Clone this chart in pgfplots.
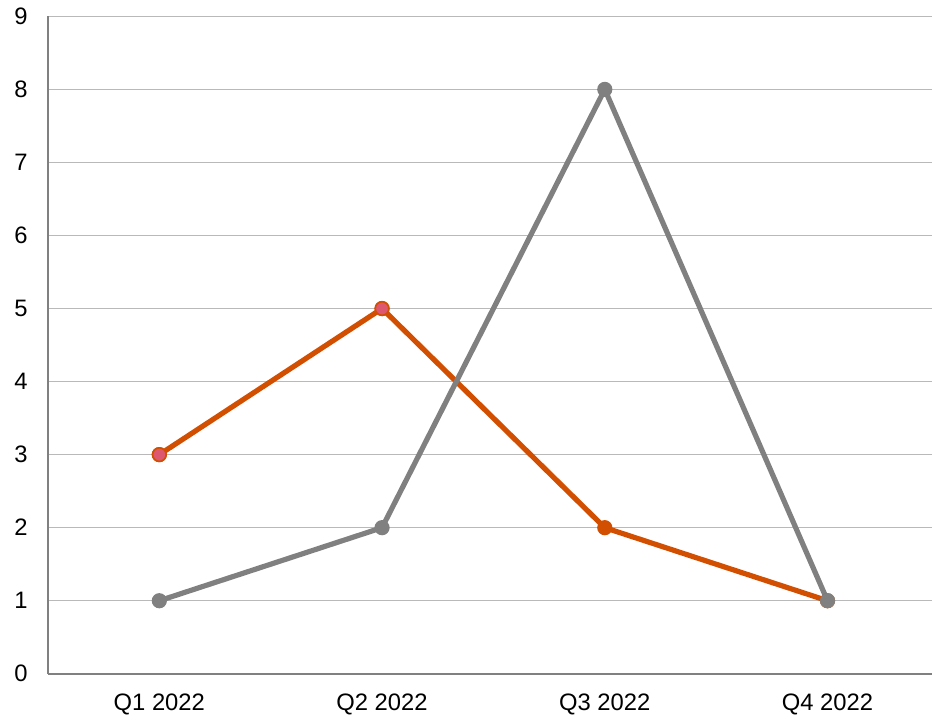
\documentclass[border=0pt]{standalone}
\usepackage{fontspec}
\setmainfont{Liberation Sans}
\usepackage{pgfplots}
\pgfplotsset{compat=1.18}
\definecolor{orgline}{RGB}{210,78,0}
\definecolor{pinkfill}{RGB}{221,87,110}
\definecolor{grayline}{RGB}{128,128,128}
\definecolor{gridc}{RGB}{185,185,185}
\begin{document}
\fontsize{11.9pt}{14pt}\selectfont
\begin{tikzpicture}
\begin{axis}[
  scale only axis,
  width=442.5pt, height=329pt,
  xmin=-0.5, xmax=3.47,
  ymin=0, ymax=9,
  ytick={0,1,...,9},
  xtick={0,1,2,3},
  xticklabels={Q1 2022,Q2 2022,Q3 2022,Q4 2022},
  axis x line*=bottom, axis y line*=left,
  axis line style={-, draw=grayline, line width=0.8pt},
  major tick length=0pt,
  ymajorgrids,
  grid style={draw=gridc, line width=0.7pt},
  tick label style={font=\fontsize{11.9pt}{14pt}\selectfont},
  yticklabel style={xshift=-6pt},
  xticklabel style={yshift=-6pt},
  /pgf/number format/assume math mode=true,
  clip=false,
]
\addplot[color=orgline, line width=2.6pt, mark=*, mark size=3.4pt,
  mark options={fill=orgline, draw=orgline, line width=0.8pt}]
  coordinates {(0,3) (1,5) (2,2) (3,1)};
\addplot[only marks, mark=*, mark size=3.4pt,
  mark options={fill=pinkfill, draw=orgline, line width=0.8pt}]
  coordinates {(0,3) (1,5)};
\addplot[color=grayline, line width=2.6pt, mark=*, mark size=3.4pt,
  mark options={fill=grayline, draw=grayline, line width=0.8pt}]
  coordinates {(0,1) (1,2) (2,8) (3,1)};
\end{axis}
\path[use as bounding box] ([xshift=-24pt,yshift=-20pt]current axis.south west) rectangle ([yshift=8pt]current axis.north east);
\end{tikzpicture}
\end{document}
